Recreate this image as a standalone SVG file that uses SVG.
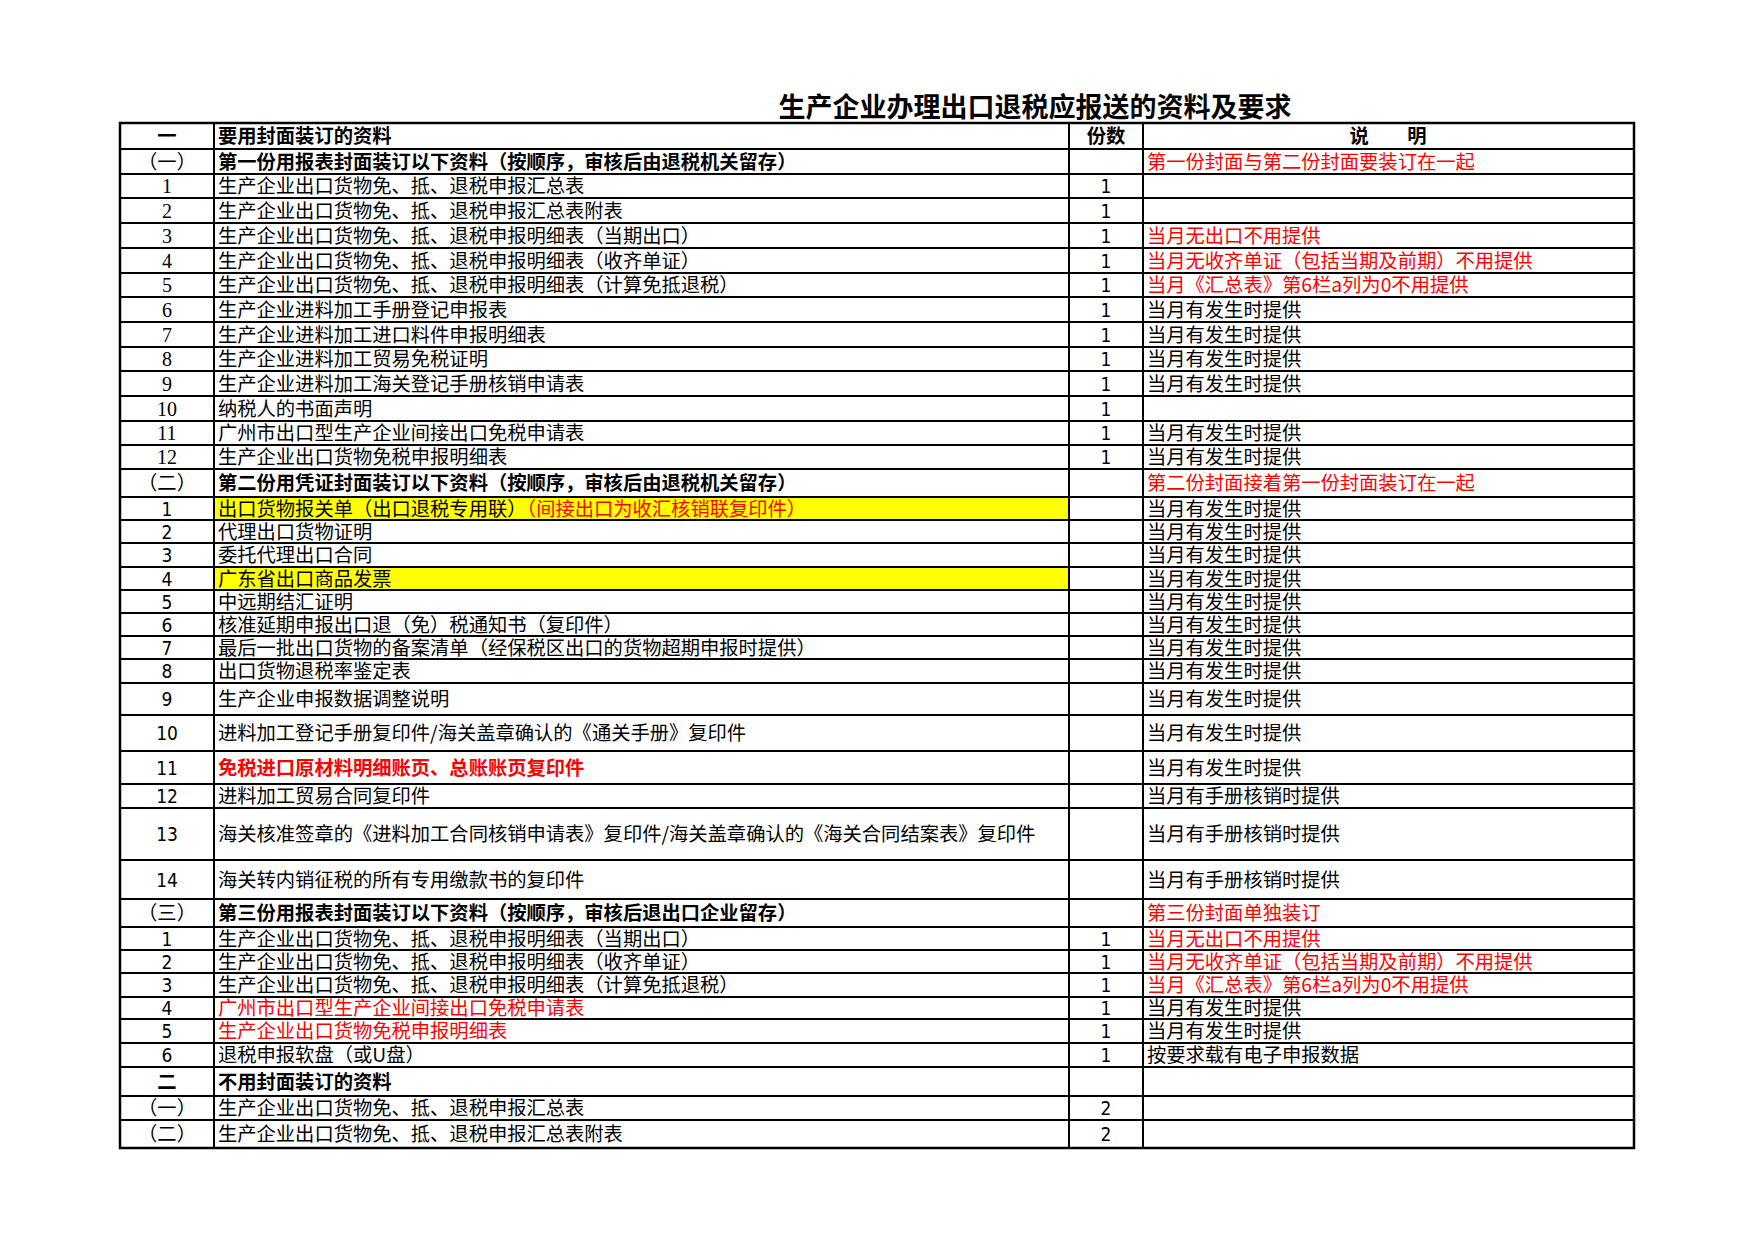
<svg xmlns="http://www.w3.org/2000/svg" width="1754" height="1240" viewBox="0 0 1754 1240">
<style>
text{font-family:"Noto Sans CJK SC","Noto Sans",sans-serif;font-size:19.3px;fill:#000}
.b{font-weight:bold}
.r{fill:#f00}
.c{text-anchor:middle}
.s{font-family:"Liberation Serif","Noto Sans CJK SC",serif;font-size:20px}
.n{font-family:"DejaVu Sans Condensed","DejaVu Sans",sans-serif;font-size:19px}
line{stroke:#000;stroke-width:2}
</style>
<rect width="1754" height="1240" fill="#fff"/>
<text id="title" class="b" x="1035" y="117" text-anchor="middle" style="font-size:27px">生产企业办理出口退税应报送的资料及要求</text>
<g id="fills">
<rect x="214" y="497" width="855" height="23" fill="#ff0"/>
<rect x="214" y="567" width="855" height="23" fill="#ff0"/>
</g>
<g id="grid">
<line x1="120" y1="149" x2="1634" y2="149"/><line x1="120" y1="174" x2="1634" y2="174"/><line x1="120" y1="198" x2="1634" y2="198"/><line x1="120" y1="223" x2="1634" y2="223"/><line x1="120" y1="248" x2="1634" y2="248"/><line x1="120" y1="273" x2="1634" y2="273"/><line x1="120" y1="297" x2="1634" y2="297"/><line x1="120" y1="322" x2="1634" y2="322"/><line x1="120" y1="347" x2="1634" y2="347"/><line x1="120" y1="371" x2="1634" y2="371"/><line x1="120" y1="396" x2="1634" y2="396"/><line x1="120" y1="421" x2="1634" y2="421"/><line x1="120" y1="445" x2="1634" y2="445"/><line x1="120" y1="469" x2="1634" y2="469"/><line x1="120" y1="497" x2="1634" y2="497"/><line x1="120" y1="520" x2="1634" y2="520"/><line x1="120" y1="543" x2="1634" y2="543"/><line x1="120" y1="567" x2="1634" y2="567"/><line x1="120" y1="590" x2="1634" y2="590"/><line x1="120" y1="613" x2="1634" y2="613"/><line x1="120" y1="636" x2="1634" y2="636"/><line x1="120" y1="659" x2="1634" y2="659"/><line x1="120" y1="683" x2="1634" y2="683"/><line x1="120" y1="715" x2="1634" y2="715"/><line x1="120" y1="751" x2="1634" y2="751"/><line x1="120" y1="784" x2="1634" y2="784"/><line x1="120" y1="808" x2="1634" y2="808"/><line x1="120" y1="860" x2="1634" y2="860"/><line x1="120" y1="899" x2="1634" y2="899"/><line x1="120" y1="927" x2="1634" y2="927"/><line x1="120" y1="950" x2="1634" y2="950"/><line x1="120" y1="973" x2="1634" y2="973"/><line x1="120" y1="997" x2="1634" y2="997"/><line x1="120" y1="1019" x2="1634" y2="1019"/><line x1="120" y1="1043" x2="1634" y2="1043"/><line x1="120" y1="1067" x2="1634" y2="1067"/><line x1="120" y1="1096" x2="1634" y2="1096"/><line x1="120" y1="1120" x2="1634" y2="1120"/>
<line x1="214" y1="123" x2="214" y2="1148"/><line x1="1069" y1="123" x2="1069" y2="1148"/><line x1="1143" y1="123" x2="1143" y2="1148"/>
<rect x="120" y="123" width="1514" height="1025" fill="none" stroke="#000" stroke-width="2.5"/>
</g>
<g id="col1">
<text class="b c" x="167" y="143">一</text>
<text class="c" x="167" y="168.5">（一）</text>
<text class="s c" x="167" y="193">1</text><text class="s c" x="167" y="217.5">2</text><text class="s c" x="167" y="242.5">3</text><text class="s c" x="167" y="267.5">4</text><text class="s c" x="167" y="292">5</text><text class="s c" x="167" y="316.5">6</text><text class="s c" x="167" y="341.5">7</text><text class="s c" x="167" y="366">8</text><text class="s c" x="167" y="390.5">9</text><text class="s c" x="167" y="415.5">10</text><text class="s c" x="167" y="440">11</text><text class="s c" x="167" y="464">12</text>
<text class="c" x="167" y="490">（二）</text>
<text class="n c" x="167" y="515.5">1</text><text class="n c" x="167" y="538.5">2</text><text class="n c" x="167" y="562">3</text><text class="n c" x="167" y="585.5">4</text><text class="n c" x="167" y="608.5">5</text><text class="n c" x="167" y="631.5">6</text><text class="n c" x="167" y="654.5">7</text><text class="n c" x="167" y="678">8</text><text class="n c" x="167" y="706">9</text><text class="n c" x="167" y="740">10</text><text class="n c" x="167" y="774.5">11</text><text class="n c" x="167" y="803">12</text><text class="n c" x="167" y="841">13</text><text class="n c" x="167" y="886.5">14</text>
<text class="c" x="167" y="920">（三）</text>
<text class="n c" x="167" y="945.5">1</text><text class="n c" x="167" y="968.5">2</text><text class="n c" x="167" y="992">3</text><text class="n c" x="167" y="1015">4</text><text class="n c" x="167" y="1038">5</text><text class="n c" x="167" y="1062">6</text>
<text class="b c" x="167" y="1088.5">二</text>
<text class="c" x="167" y="1115">（一）</text>
<text class="c" x="167" y="1141">（二）</text>
</g>
<g id="col2">
<text class="b" x="218" y="143">要用封面装订的资料</text>
<text class="b" x="218" y="168.5">第一份用报表封面装订以下资料（按顺序，审核后由退税机关留存）</text>
<text x="218" y="193">生产企业出口货物免、抵、退税申报汇总表</text>
<text x="218" y="217.5">生产企业出口货物免、抵、退税申报汇总表附表</text>
<text x="218" y="242.5">生产企业出口货物免、抵、退税申报明细表（当期出口）</text>
<text x="218" y="267.5">生产企业出口货物免、抵、退税申报明细表（收齐单证）</text>
<text x="218" y="292">生产企业出口货物免、抵、退税申报明细表（计算免抵退税）</text>
<text x="218" y="316.5">生产企业进料加工手册登记申报表</text>
<text x="218" y="341.5">生产企业进料加工进口料件申报明细表</text>
<text x="218" y="366">生产企业进料加工贸易免税证明</text>
<text x="218" y="390.5">生产企业进料加工海关登记手册核销申请表</text>
<text x="218" y="415.5">纳税人的书面声明</text>
<text x="218" y="440">广州市出口型生产企业间接出口免税申请表</text>
<text x="218" y="464">生产企业出口货物免税申报明细表</text>
<text class="b" x="218" y="490">第二份用凭证封面装订以下资料（按顺序，审核后由退税机关留存）</text>
<text x="218" y="515.5">出口货物报关单（出口退税专用联）<tspan class="r">（间接出口为收汇核销联复印件）</tspan></text>
<text x="218" y="538.5">代理出口货物证明</text>
<text x="218" y="562">委托代理出口合同</text>
<text x="218" y="585.5">广东省出口商品发票</text>
<text x="218" y="608.5">中远期结汇证明</text>
<text x="218" y="631.5">核准延期申报出口退（免）税通知书（复印件）</text>
<text x="218" y="654.5">最后一批出口货物的备案清单（经保税区出口的货物超期申报时提供）</text>
<text x="218" y="678">出口货物退税率鉴定表</text>
<text x="218" y="706">生产企业申报数据调整说明</text>
<text x="218" y="740">进料加工登记手册复印件/海关盖章确认的《通关手册》复印件</text>
<text class="b r" x="218" y="774.5">免税进口原材料明细账页、总账账页复印件</text>
<text x="218" y="803">进料加工贸易合同复印件</text>
<text x="218" y="841">海关核准签章的《进料加工合同核销申请表》复印件/海关盖章确认的《海关合同结案表》复印件</text>
<text x="218" y="886.5">海关转内销征税的所有专用缴款书的复印件</text>
<text class="b" x="218" y="920">第三份用报表封面装订以下资料（按顺序，审核后退出口企业留存）</text>
<text x="218" y="945.5">生产企业出口货物免、抵、退税申报明细表（当期出口）</text>
<text x="218" y="968.5">生产企业出口货物免、抵、退税申报明细表（收齐单证）</text>
<text x="218" y="992">生产企业出口货物免、抵、退税申报明细表（计算免抵退税）</text>
<text class="r" x="218" y="1015">广州市出口型生产企业间接出口免税申请表</text>
<text class="r" x="218" y="1038">生产企业出口货物免税申报明细表</text>
<text x="218" y="1062">退税申报软盘（或U盘）</text>
<text class="b" x="218" y="1088.5">不用封面装订的资料</text>
<text x="218" y="1115">生产企业出口货物免、抵、退税申报汇总表</text>
<text x="218" y="1141">生产企业出口货物免、抵、退税申报汇总表附表</text>
</g>
<g id="col3">
<text class="b c" x="1106" y="143">份数</text>
<text class="n c" x="1106" y="193">1</text><text class="n c" x="1106" y="217.5">1</text><text class="n c" x="1106" y="242.5">1</text><text class="n c" x="1106" y="267.5">1</text><text class="n c" x="1106" y="292">1</text><text class="n c" x="1106" y="316.5">1</text><text class="n c" x="1106" y="341.5">1</text><text class="n c" x="1106" y="366">1</text><text class="n c" x="1106" y="390.5">1</text><text class="n c" x="1106" y="415.5">1</text><text class="n c" x="1106" y="440">1</text><text class="n c" x="1106" y="464">1</text>
<text class="n c" x="1106" y="945.5">1</text><text class="n c" x="1106" y="968.5">1</text><text class="n c" x="1106" y="992">1</text><text class="n c" x="1106" y="1015">1</text><text class="n c" x="1106" y="1038">1</text><text class="n c" x="1106" y="1062">1</text>
<text class="n c" x="1106" y="1115">2</text><text class="n c" x="1106" y="1141">2</text>
</g>
<g id="col4">
<text class="b c" x="1388" y="143" xml:space="preserve">说　　明</text>
<text class="r" x="1147" y="168.5">第一份封面与第二份封面要装订在一起</text>
<text class="r" x="1147" y="242.5">当月无出口不用提供</text>
<text class="r" x="1147" y="267.5">当月无收齐单证（包括当期及前期）不用提供</text>
<text class="r" x="1147" y="292">当月《汇总表》第6栏a列为0不用提供</text>
<text x="1147" y="316.5">当月有发生时提供</text><text x="1147" y="341.5">当月有发生时提供</text><text x="1147" y="366">当月有发生时提供</text><text x="1147" y="390.5">当月有发生时提供</text>
<text x="1147" y="440">当月有发生时提供</text><text x="1147" y="464">当月有发生时提供</text>
<text class="r" x="1147" y="490">第二份封面接着第一份封面装订在一起</text>
<text x="1147" y="515.5">当月有发生时提供</text><text x="1147" y="538.5">当月有发生时提供</text><text x="1147" y="562">当月有发生时提供</text><text x="1147" y="585.5">当月有发生时提供</text><text x="1147" y="608.5">当月有发生时提供</text><text x="1147" y="631.5">当月有发生时提供</text><text x="1147" y="654.5">当月有发生时提供</text><text x="1147" y="678">当月有发生时提供</text><text x="1147" y="706">当月有发生时提供</text><text x="1147" y="740">当月有发生时提供</text><text x="1147" y="774.5">当月有发生时提供</text>
<text x="1147" y="803">当月有手册核销时提供</text><text x="1147" y="841">当月有手册核销时提供</text><text x="1147" y="886.5">当月有手册核销时提供</text>
<text class="r" x="1147" y="920">第三份封面单独装订</text>
<text class="r" x="1147" y="945.5">当月无出口不用提供</text>
<text class="r" x="1147" y="968.5">当月无收齐单证（包括当期及前期）不用提供</text>
<text class="r" x="1147" y="992">当月《汇总表》第6栏a列为0不用提供</text>
<text x="1147" y="1015">当月有发生时提供</text><text x="1147" y="1038">当月有发生时提供</text>
<text x="1147" y="1062">按要求载有电子申报数据</text>
</g>
</svg>
